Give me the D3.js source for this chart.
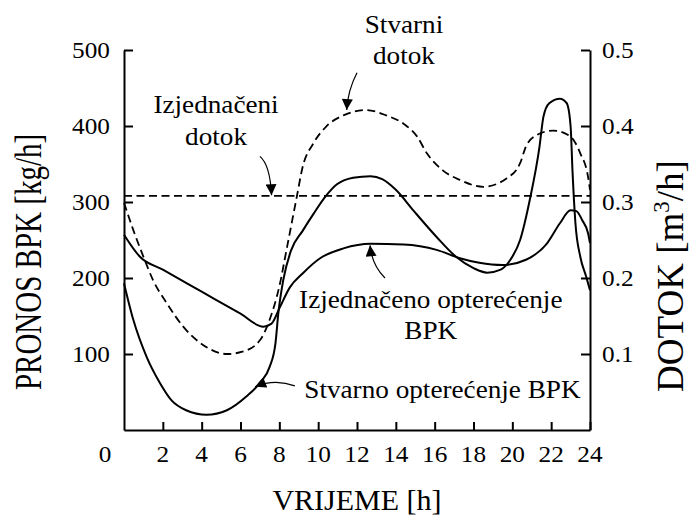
<!DOCTYPE html>
<html>
<head>
<meta charset="utf-8">
<script src="https://cdn.jsdelivr.net/npm/d3@7"></script>
<style>
  body { margin: 0; background: #fff; }
  svg { display: block; }
  text { font-family: "Liberation Serif", "Times New Roman", serif; fill: #000; }
  .axis path, .axis line { stroke: #000; stroke-width: 2; }
  .curve { fill: none; stroke: #000; stroke-width: 2; }
  .dash { stroke-dasharray: 8,4.5; stroke-width: 1.8; }
  .pointer { fill: none; stroke: #000; stroke-width: 1.2; }
</style>
</head>
<body>
<svg id="chart" width="692" height="516"></svg>
<script>
// values
var xTicks = [2, 4, 6, 8, 10, 12, 14, 16, 18, 20, 22, 24];
var leftTicks = [100, 200, 300, 400, 500];
var rightTicks = [0.1, 0.2, 0.3, 0.4, 0.5];

// stvarni dotok [m3/h]
var dotokH = [0, 0.48, 1.0, 1.5, 2.2, 3.05, 4.07, 5.3, 6.1, 7.0, 7.5, 8.0, 8.4, 8.9, 9.2, 9.75, 10.4, 11.3, 12.5, 13.5, 14.4, 15.1, 15.6, 16.4, 17.3, 18.5, 19.7, 20.4, 20.7, 21.25, 22.1, 23.0, 23.5, 23.9, 24];
var dotok = [0.299, 0.263, 0.228, 0.197, 0.167, 0.136, 0.112, 0.100, 0.103, 0.118, 0.145, 0.189, 0.241, 0.307, 0.346, 0.377, 0.399, 0.414, 0.421, 0.414, 0.403, 0.386, 0.364, 0.342, 0.329, 0.320, 0.331, 0.351, 0.373, 0.388, 0.394, 0.386, 0.364, 0.333, 0.316];

// izjednaceni dotok [m3/h]
var izjDotokH = [0, 24];
var izjDotok = [0.308, 0.308];

// izjednaceno opterecenje BPK [kg/h]
var izjOptH = [0, 0.82, 2.0, 4.0, 6.0, 7.17, 7.6, 8.0, 8.55, 9.2, 10.1, 11.3, 12.7, 14.4, 16.1, 17.3, 18.3, 19.5, 20.7, 21.8, 22.45, 23.0, 23.3, 23.6, 23.9, 24];
var izjOpt = [257, 228, 211, 182, 153, 136, 140, 160, 188, 206, 226, 239, 245, 244, 237, 226, 220, 217, 224, 246, 272, 289, 288, 276, 259, 246];

// stvarno opterecenje BPK [kg/h]
var stvOptH = [0, 0.48, 1.17, 1.85, 2.45, 3.2, 4.25, 5.3, 6.3, 7.0, 7.5, 7.8, 7.95, 8.2, 8.6, 9.2, 9.75, 10.4, 10.95, 11.8, 12.7, 13.3, 14.0, 14.9, 16.1, 17.1, 18.0, 18.7, 19.4, 19.9, 20.4, 20.9, 21.4, 21.6, 21.9, 22.45, 22.8, 23.0, 23.1, 23.25, 23.5, 23.8, 24];
var stvOpt = [193, 145, 96, 62, 39, 26, 20, 26, 44, 62, 83, 114, 154, 197, 236, 262, 284, 308, 323, 332, 334, 330, 316, 289, 254, 228, 213, 207, 211, 224, 250, 303, 373, 412, 430, 436, 430, 400, 340, 272, 228, 202, 184];

var svg = d3.select("#chart");
var margin = {top: 50, right: 102, bottom: 86, left: 124};
var graph_w = 692 - margin.left - margin.right;
var graph_h = 516 - margin.top - margin.bottom;
var g = svg.append("g").attr("transform", "translate(" + margin.left + "," + margin.top + ")");

var x = d3.scaleLinear().domain([0, 24]).range([0, graph_w]);
var y = d3.scaleLinear().domain([0, 500]).range([graph_h, 0]);
var y2 = d3.scaleLinear().domain([0, 0.5]).range([graph_h, 0]);

// text with a small horizontal stretch, like the original
function label(parent, txt, px, py, size, sx, anchor) {
  return parent.append("text")
    .attr("transform", "translate(" + px + "," + py + ") scale(" + sx + ",1)")
    .attr("text-anchor", anchor)
    .style("font-size", size + "px")
    .text(txt);
}

// axes (ticks point inward)
g.append("g").attr("class", "axis")
  .attr("transform", "translate(0," + graph_h + ")")
  .call(d3.axisBottom(x).tickValues(xTicks).tickSize(-8).tickSizeOuter(0).tickFormat(""));
g.append("g").attr("class", "axis")
  .call(d3.axisLeft(y).tickValues(leftTicks).tickSize(-9).tickSizeOuter(0).tickFormat(""));
g.append("g").attr("class", "axis")
  .attr("transform", "translate(" + graph_w + ",0)")
  .call(d3.axisRight(y2).tickValues(rightTicks).tickSize(-9).tickSizeOuter(0).tickFormat(""));

xTicks.forEach(function(t) { label(g, t, x(t), graph_h + 32, 23, 1.1, "middle"); });
label(g, "0", -19, graph_h + 32, 23, 1.1, "middle");
leftTicks.forEach(function(t) { label(g, t, -14, y(t) + 7.5, 23, 1.1, "end"); });
rightTicks.forEach(function(t) { label(g, t, graph_w + 12, y2(t) + 7.5, 23, 1.1, "start"); });

// axis titles
label(g, "VRIJEME [h]", graph_w / 2, graph_h + 80, 30, 1.0, "middle");
g.append("text")
  .attr("transform", "translate(-83," + (graph_h / 2 + 22) + ") rotate(-90) scale(1,1.3)")
  .attr("text-anchor", "middle")
  .style("font-size", "29px")
  .text("PRONOS BPK [kg/h]");
var t2 = g.append("text")
  .attr("transform", "translate(" + (graph_w + 93) + "," + (graph_h / 2 + 36) + ") rotate(-90)")
  .attr("text-anchor", "middle")
  .style("font-size", "37px");
t2.append("tspan").text("DOTOK [m");
t2.append("tspan").attr("dy", -14).style("font-size", "23px").text("3");
t2.append("tspan").attr("dy", 14).text("/h]");

// curves
function series(hs, vs, scale, cls) {
  var pts = hs.map(function(h, i) { return [h, vs[i]]; });
  var line = d3.line()
    .x(function(d) { return x(d[0]); })
    .y(function(d) { return scale(d[1]); })
    .curve(d3.curveMonotoneX);
  g.append("path").datum(pts).attr("class", cls).attr("d", line);
}
series(izjDotokH, izjDotok, y2, "curve dash");
series(dotokH, dotok, y2, "curve dash");
series(izjOptH, izjOpt, y, "curve");
series(stvOptH, stvOpt, y, "curve");

// annotation arrows
svg.append("defs").append("marker")
  .attr("id", "head").attr("viewBox", "0 0 10 10")
  .attr("refX", 10).attr("refY", 5)
  .attr("markerWidth", 12).attr("markerHeight", 11)
  .attr("markerUnits", "userSpaceOnUse")
  .attr("orient", "auto")
  .append("path").attr("d", "M0,0L10,5L0,10Z").attr("fill", "#000");

// [start, control, tip] in hours / kg/h
var pointers = [
  [[12.0, 470], [11.53, 447], [11.47, 421]],
  [[7.0, 360], [7.52, 349], [7.6, 309]],
  [[13.44, 200], [12.77, 217], [12.67, 243]],
  [[8.8, 58], [7.78, 68], [6.75, 57]]
];
pointers.forEach(function(p) {
  var path = d3.path();
  path.moveTo(x(p[0][0]), y(p[0][1]));
  path.quadraticCurveTo(x(p[1][0]), y(p[1][1]), x(p[2][0]), y(p[2][1]));
  g.append("path").attr("class", "pointer").attr("d", path.toString()).attr("marker-end", "url(#head)");
});

// annotation texts
label(g, "Stvarni", x(14.42), y(522), 24.5, 1.11, "middle");
label(g, "dotok", x(14.42), y(481), 24.5, 1.11, "middle");
label(g, "Izjednačeni", x(4.74), y(417), 24.5, 1.11, "middle");
label(g, "dotok", x(4.74), y(375), 24.5, 1.11, "middle");
label(g, "Izjednačeno opterećenje", x(15.8), y(160), 24.5, 1.11, "middle");
label(g, "BPK", x(15.8), y(120), 24.5, 1.11, "middle");
label(g, "Stvarno opterećenje BPK", x(16.4), y(42), 24.5, 1.11, "middle");
</script>
</body>
</html>
